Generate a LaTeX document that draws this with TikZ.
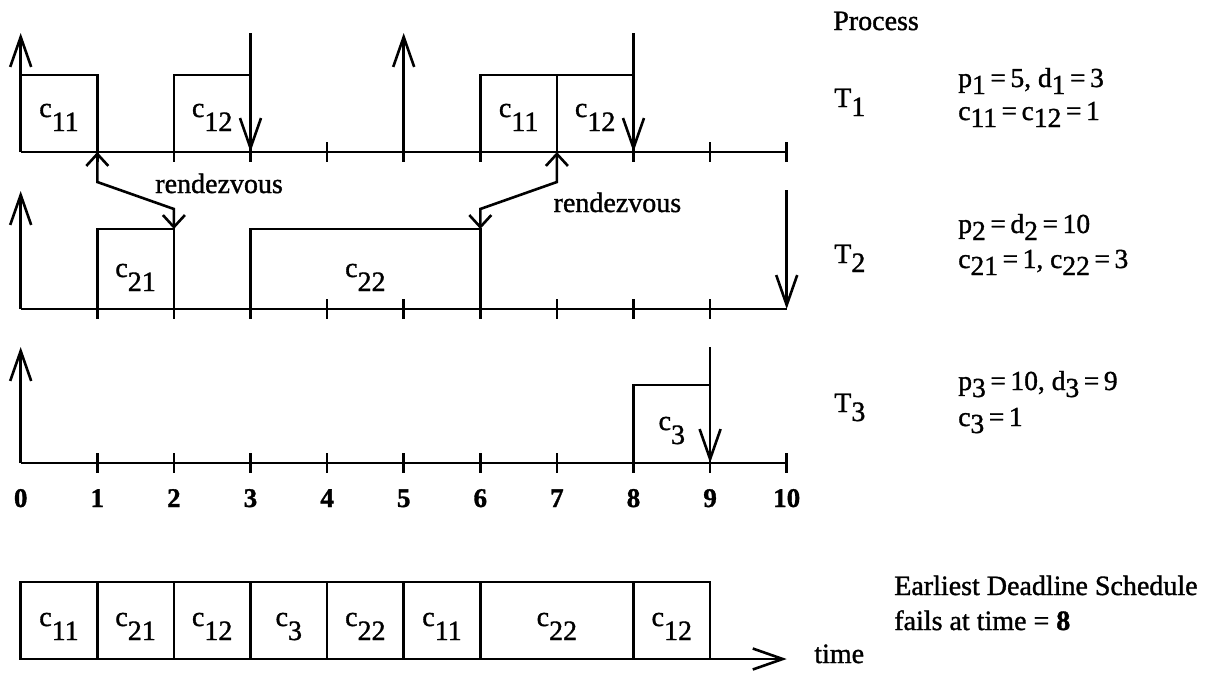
\documentclass[tikz,border=0pt]{standalone}
\usepackage{fontspec}
\setmainfont[FakeBold=1.2]{Liberation Serif}
\usetikzlibrary{arrows.meta}
\newcommand{\bsub}[1]{\raisebox{-14pt}{#1}}
\newcommand{\lo}[1]{\raisebox{-7pt}{#1}}
\newcommand{\tlo}[1]{\raisebox{-9pt}{#1}}
\tikzset{
  bigtip/.tip={Straight Barb[length=30pt,width=21pt]},
  rtip/.tip={Straight Barb[length=12pt,width=22pt]},
  lab/.style={font=\fontsize{28}{32}\selectfont, inner sep=0pt, anchor=base},
  labw/.style={font=\fontsize{28}{32}\selectfont, inner sep=0pt, anchor=base west},
  parw/.style={font=\fontsize{27.5}{32}\selectfont, inner sep=0pt, anchor=base west},
  num/.style={font=\fontsize{27}{32}\selectfont\bfseries, inner sep=0pt, anchor=base},
  line/.style={line width=2.6pt},
  upar/.style={line width=2.6pt, -bigtip},
  rdv/.style={line width=2.6pt, rtip-rtip}
}
\begin{document}
\begin{tikzpicture}[x=1pt,y=-1pt, line width=2.6pt, line cap=butt, line join=miter]
\useasboundingbox (0,0) rectangle (1217,675);
\begin{scope}[xshift=20.7pt, x=76.6pt]
% ---------- Row 1 (T1) ----------
\draw[line] (0,152) -- (10,152);
\foreach \t in {1,...,10} \draw[line] (\t,142) -- (\t,162);
\draw[upar] (0,152) -- (0,33);
\draw[line] (0,75) -- (1,75) -- (1,152);
\draw[line] (2,152) -- (2,75) -- (3,75);
\draw[upar] (3,33) -- (3,152);
\draw[upar] (5,152) -- (5,33);
\draw[line] (6,152) -- (6,75) -- (8,75);
\draw[line] (7,75) -- (7,152);
\draw[upar] (8,33) -- (8,152);
\node[lab] (r1a) at (0.5,117) {c\bsub{11}};
\node[lab] (r1b) at (2.5,117) {c\bsub{12}};
\node[lab] (r1c) at (6.5,117) {c\bsub{11}};
\node[lab] (r1d) at (7.5,117) {c\bsub{12}};
% ---------- Row 2 (T2) ----------
\draw[line] (0,309) -- (10,309);
\foreach \t in {1,...,9} \draw[line] (\t,299) -- (\t,319);
\draw[upar] (0,309) -- (0,191);
\draw[line] (1,309) -- (1,229) -- (2,229) -- (2,309);
\draw[line] (3,309) -- (3,229) -- (6,229) -- (6,309);
\draw[upar] (10,190) -- (10,309);
\node[lab] (r2a) at (1.5,277) {c\bsub{21}};
\node[lab] (r2b) at (4.5,277) {c\bsub{22}};
% ---------- Row 3 (T3) ----------
\draw[line] (0,463) -- (10,463);
\foreach \t in {1,...,10} \draw[line] (\t,453) -- (\t,473);
\draw[upar] (0,463) -- (0,347);
\draw[line] (8,463) -- (8,385) -- (9,385);
\draw[upar] (9,347) -- (9,463);
\node[lab] (r3a) at (8.5,430) {c\bsub{3}};
% ---------- rendezvous ----------
\coordinate (ra1) at (1,152);
\coordinate (ra2) at (1,182);
\coordinate (ra3) at (2,209);
\coordinate (ra4) at (2,229);
\draw[rdv] (ra1) -- (ra2) -- (ra3) -- (ra4);
\coordinate (rb1) at (7,152);
\coordinate (rb2) at (7,182);
\coordinate (rb3) at (6,209);
\coordinate (rb4) at (6,229);
\draw[rdv] (rb1) -- (rb2) -- (rb3) -- (rb4);
\node[lab] (rv1) at (2.59,193) {rendezvous};
\node[lab] (rv2) at (7.79,212) {rendezvous};
% ---------- axis numbers ----------
\foreach \t in {0,...,10} \node[num] (n\t) at (\t,507) {\t};
% ---------- schedule ----------
\draw[line] (0,582) rectangle (9,659);
\foreach \t in {1,2,3,4,5,6,8} \draw[line] (\t,582) -- (\t,659);
\coordinate (tend) at (10,659);
\draw[line, -bigtip] (9,659) -- (tend);
\node[lab] (s1) at (0.5,626) {c\bsub{11}};
\node[lab] (s2) at (1.5,626) {c\bsub{21}};
\node[lab] (s3) at (2.5,626) {c\bsub{12}};
\node[lab] (s4) at (3.5,626) {c\bsub{3}};
\node[lab] (s5) at (4.5,626) {c\bsub{22}};
\node[lab] (s6) at (5.5,626) {c\bsub{11}};
\node[lab] (s7) at (7.0,626) {c\bsub{22}};
\node[lab] (s8) at (8.5,626) {c\bsub{12}};
\end{scope}
% ---------- right-hand text ----------
\node[labw] (proc) at (832,30) {Process};
\node[labw] (T1) at (833,107) {T\tlo{1}};
\node[labw] (T2) at (833,263) {T\tlo{2}};
\node[labw] (T3) at (833,412) {T\tlo{3}};
\node[parw] (p1a) at (957,87) {p\lo{1}\,=\,5, d\lo{1}\,=\,3};
\node[parw] (p1b) at (957,120) {c\lo{11}\,=\,c\lo{12}\,=\,1};
\node[parw] (p2a) at (957,233) {p\lo{2}\,=\,d\lo{2}\,=\,10};
\node[parw] (p2b) at (957,268) {c\lo{21}\,=\,1, c\lo{22}\,=\,3};
\node[parw] (p3a) at (957,390) {p\lo{3}\,=\,10, d\lo{3}\,=\,9};
\node[parw] (p3b) at (957,426) {c\lo{3}\,=\,1};
\node[labw] (eds1) at (893,595) {Earliest Deadline Schedule};
\node[labw] (eds2) at (893,630) {fails at time = \textbf{8}};
\node[labw] (time) at (813,663) {time};
\end{tikzpicture}
\end{document}
